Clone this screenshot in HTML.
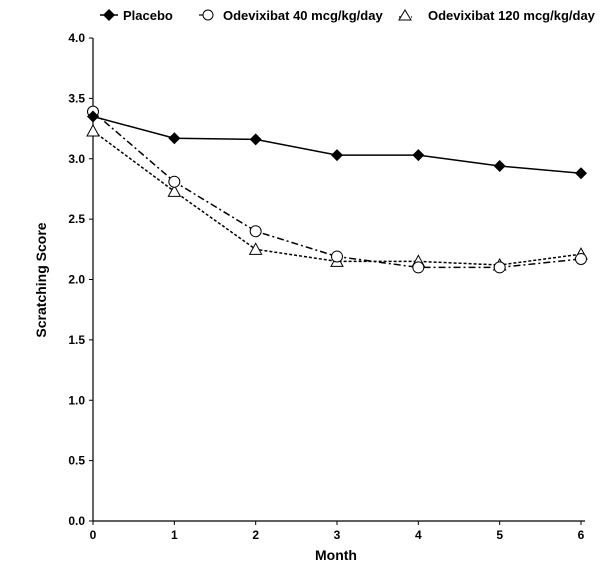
<!DOCTYPE html>
<html><head><meta charset="utf-8"><style>
body{margin:0;background:#fff}
svg{display:block;font-family:"Liberation Sans",Arial,sans-serif;font-weight:bold}
</style></head><body>
<svg id="chart" width="600" height="570">
<g id="legend">
 <g>
  <line x1="100" y1="15" x2="118" y2="15" stroke="#000" stroke-width="1.5"/>
  <polygon points="109,9 115,15 109,21 103,15" fill="#000"/>
  <text x="123" y="20" font-size="13">Placebo</text>
 </g>
 <g>
  <line x1="199" y1="15" x2="203" y2="15" stroke="#000" stroke-width="1.2"/>
  <circle cx="208" cy="15" r="5" fill="#fff" stroke="#000" stroke-width="1"/>
  <text x="223" y="20" font-size="13">Odevixibat 40 mcg/kg/day</text>
 </g>
 <g>
  <line x1="399" y1="17" x2="412" y2="17" stroke="#000" stroke-width="1.2" stroke-dasharray="2,2"/>
  <polygon points="405,10 411,20 399,20" fill="#fff" stroke="#000" stroke-width="1"/>
  <text x="428" y="20" font-size="13">Odevixibat 120 mcg/kg/day</text>
 </g>
</g>
<g id="axes"></g>
<g id="series"></g>
<text x="46" y="280" font-size="14" text-anchor="middle" transform="rotate(-90 46 280)">Scratching Score</text>
<text x="336" y="560" font-size="14" text-anchor="middle">Month</text>
</svg>
<script>
const months=[0,1,2,3,4,5,6];
const yTicks=[0,0.5,1,1.5,2,2.5,3,3.5,4];
const placebo=[3.35,3.17,3.16,3.03,3.03,2.94,2.88];
const dose40=[3.39,2.81,2.40,2.19,2.10,2.10,2.17];
const dose120=[3.23,2.73,2.25,2.15,2.15,2.12,2.21];
const NS="http://www.w3.org/2000/svg";
const X0=93,X1=581,Y0=521,Y1=38;
const xs=v=>X0+(v/6)*(X1-X0);
const ys=v=>Y0-(v/4)*(Y0-Y1);
function mk(t,a,p){const e=document.createElementNS(NS,t);for(const k in a)e.setAttribute(k,a[k]);p.appendChild(e);return e;}
const ax=document.getElementById('axes');
const yl=mk('line',{x1:X0,y1:Y1,x2:X0,y2:Y0,stroke:'#000','stroke-width':1.2},ax);


const xl=mk('line',{x1:X0,y1:Y0,x2:X1+4,y2:Y0,stroke:'#000','stroke-width':1.2},ax);


yTicks.forEach(v=>{
 mk('line',{x1:X0-4,y1:ys(v),x2:X0,y2:ys(v),stroke:'#000'},ax);
 const t=mk('text',{x:X0-8,y:ys(v)+4,'font-size':12,'text-anchor':'end'},ax);
 t.textContent=v.toFixed(1);
 
 
});
months.forEach(v=>{
 mk('line',{x1:xs(v),y1:Y0,x2:xs(v),y2:Y0+4,stroke:'#000'},ax);
 const t=mk('text',{x:xs(v),y:Y0+18,'font-size':12,'text-anchor':'middle'},ax);
 t.textContent=v;
 
 
});
const sg=document.getElementById('series');
function series(vals,name,dash,marker){
 const g=mk('g',{},sg);
 
 
 const pl=mk('polyline',{points:vals.map((v,i)=>xs(months[i])+','+ys(v)).join(' '),fill:'none',stroke:'#000','stroke-width':1.5,'stroke-dasharray':dash},g);
 
 
 vals.forEach((v,i)=>{
  const x=xs(months[i]),y=ys(v);let m;
  if(marker==='d')m=mk('polygon',{points:`${x},${y-6} ${x+6},${y} ${x},${y+6} ${x-6},${y}`,fill:'#000'},g);
  else if(marker==='c')m=mk('circle',{cx:x,cy:y,r:5.5,fill:'#fff',stroke:'#000','stroke-width':1},g);
  else m=mk('polygon',{points:`${x},${y-6} ${x+6},${y+5} ${x-6},${y+5}`,fill:'#fff',stroke:'#000','stroke-width':1},g);
  
  
 });
}
series(dose120,'series-120','3,2','t');
series(dose40,'series-40','7,3,2,3','c');
series(placebo,'series-placebo','none','d');
</script>
</body></html>
